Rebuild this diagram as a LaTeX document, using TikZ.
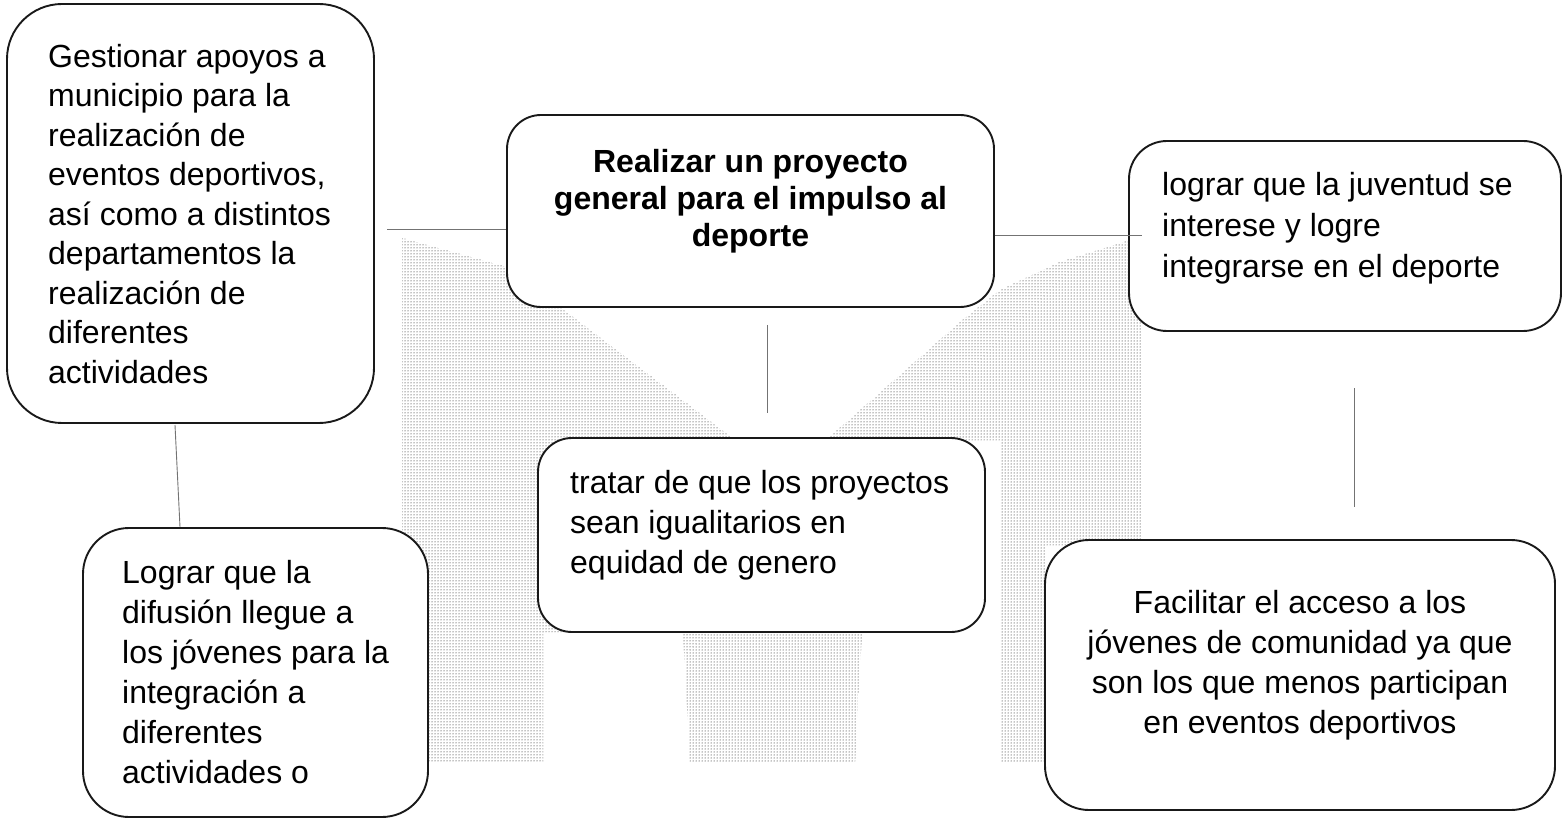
\documentclass[tikz,border=0pt]{standalone}
\usepackage{fontspec}
\setmainfont{Liberation Sans}
\usetikzlibrary{patterns}
\begin{document}
\begin{tikzpicture}[x=1pt,y=-1pt,
  box/.style={draw=black!90, line width=1.9pt, fill=white, inner sep=0pt},
  txt/.style={inner sep=0pt, font=\fontsize{32}{40}\selectfont},
  link/.style={draw=black!55, line width=0.9pt},
  stip/.style={pattern=dots, pattern color=black, draw=none}]
\useasboundingbox (0,0) rectangle (1564,818);
% stippled background
\fill[stip] (402,238) -- (507,267) -- (560,307) -- (735,440) -- (683,632) -- (543,632) -- (543,763) -- (402,763) -- cycle;
\fill[stip] (683,632) -- (862,632) -- (855,763) -- (690,763) -- cycle;
\fill[stip] (826,440) -- (900,375) -- (960,322) -- (1000,290) -- (1060,262) -- (1130,240) -- (1142,240) -- (1142,545) -- (1045,545) -- (1045,763) -- (1000,763) -- (1000,440) -- cycle;
% boxes
\node[box, rounded corners=55pt, minimum width=367pt, minimum height=419pt] (b1) at (190.5,213.5) {};
\node[box, rounded corners=34pt, minimum width=487pt, minimum height=192pt] (b2) at (750.5,211) {};
\node[box, rounded corners=38pt, minimum width=432pt, minimum height=190pt] (b3) at (1345,236) {};
\node[box, rounded corners=34pt, minimum width=447pt, minimum height=194pt] (b4) at (761.5,535) {};
\node[box, rounded corners=46pt, minimum width=345pt, minimum height=289pt] (b5) at (255.5,672.5) {};
\node[box, rounded corners=44pt, minimum width=510pt, minimum height=270pt] (b6) at (1300,675) {};
% texts
\node[txt, font=\fontsize{32}{39.5}\selectfont, align=left, anchor=north west] (t1) at (48,39.35)
 {\strut Gestionar apoyos a\\municipio para la\\realización de\\eventos deportivos,\\así como a distintos\\departamentos la\\realización de\\diferentes\\actividades};
\node[txt, font=\fontsize{32}{37}\selectfont\bfseries, align=center, anchor=north] (t2) at (750.5,146.1)
 {\strut Realizar un proyecto\\general para el impulso al\\deporte};
\node[txt, font=\fontsize{32}{41}\selectfont, align=left, anchor=north west] (t3) at (1162,166.3)
 {\strut lograr que la juventud se\\interese y logre\\integrarse en el deporte};
\node[txt, align=left, anchor=north west] (t4) at (570,465)
 {\strut tratar de que los proyectos\\sean igualitarios en\\equidad de genero};
\node[txt, align=left, anchor=north west] (t5) at (122,555)
 {\strut Lograr que la\\difusión llegue a\\los jóvenes para la\\integración a\\diferentes\\actividades o};
\node[txt, align=center, anchor=north] (t6) at (1300,585)
 {\strut Facilitar el acceso a los\\jóvenes de comunidad ya que\\son los que menos participan\\en eventos deportivos};
% connectors
\coordinate (c1) at (387,229);
\coordinate (c2) at (1142,235);
\coordinate (c3a) at (767,325);
\coordinate (c3b) at (767,413);
\coordinate (c4a) at (175,425);
\coordinate (c4b) at (180,527);
\coordinate (c5a) at (1354,388);
\coordinate (c5b) at (1354,507);
\draw[link] (c1) -- (b2.west |- c1);
\draw[link] (b2.east |- c2) -- (c2);
\draw[link] (c3a) -- (c3b);
\draw[link] (c4a) -- (c4b);
\draw[link] (c5a) -- (c5b);
\end{tikzpicture}
\end{document}
